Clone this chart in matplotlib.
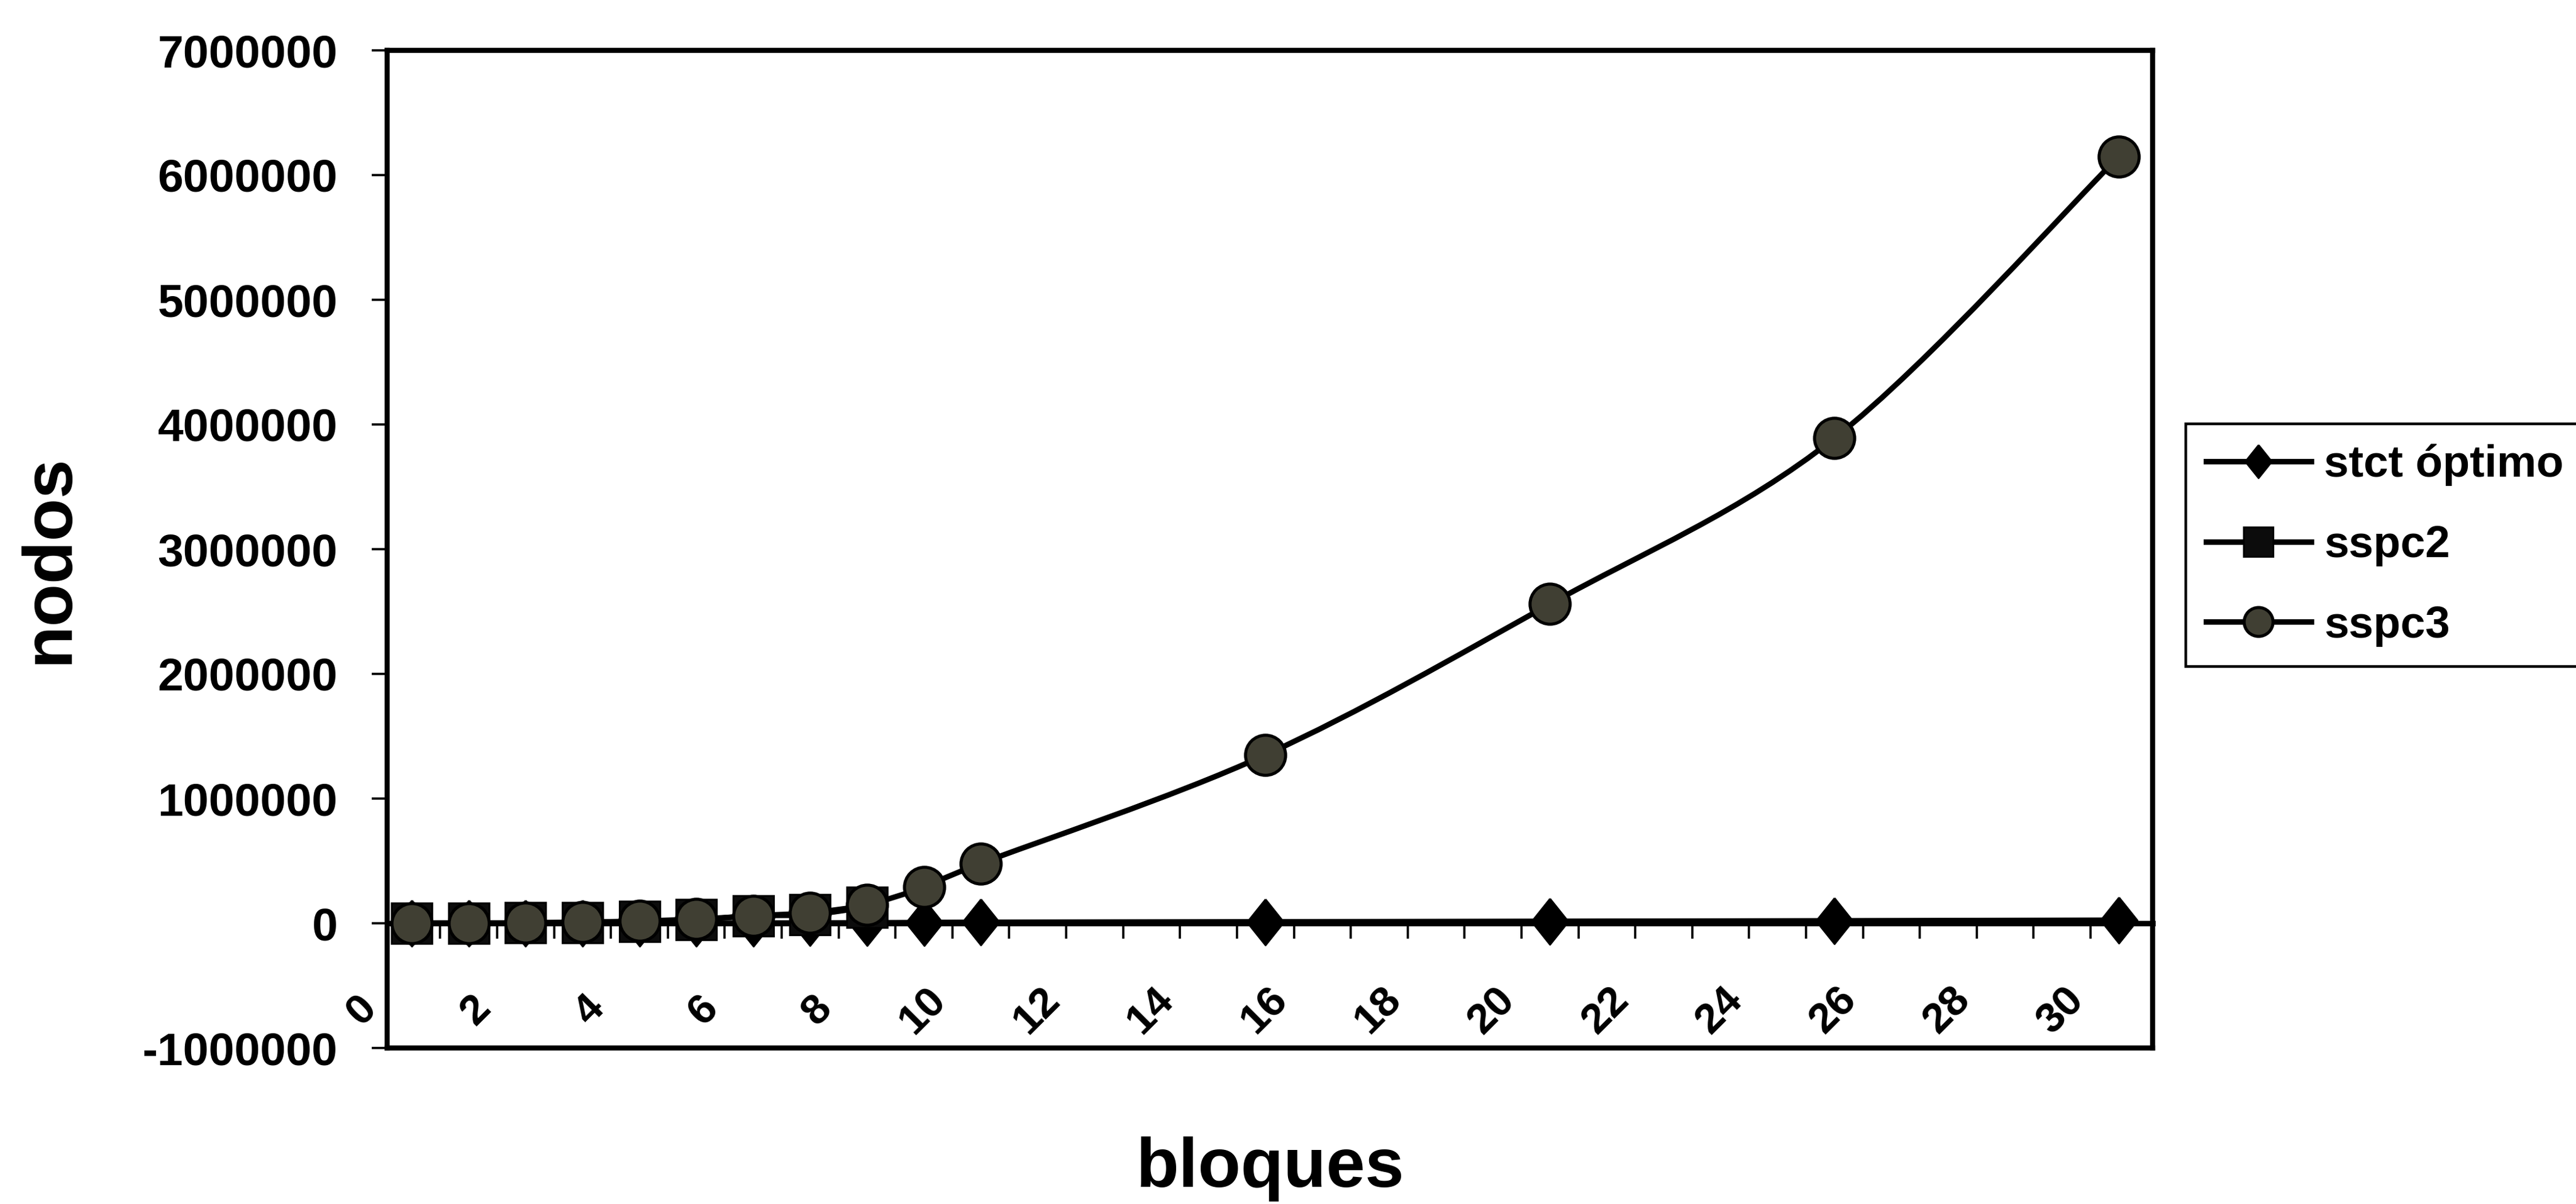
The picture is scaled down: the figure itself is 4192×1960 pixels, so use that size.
import numpy as np
import matplotlib
matplotlib.use("Agg")
import matplotlib.pyplot as plt
from matplotlib.path import Path
from matplotlib.patches import PathPatch
from matplotlib.lines import Line2D

# ---------------- data ----------------
series_names = ["stct óptimo", "sspc2", "sspc3"]

bloques_stct = [1, 2, 3, 4, 5, 6, 7, 8, 9, 10, 11, 16, 21, 26, 31]
nodos_stct = [20, 60, 150, 300, 600, 1100, 1800, 2800, 4200, 6000, 8500,
              12000, 16000, 20000, 25000]

bloques_sspc2 = [1, 2, 3, 4, 5, 6, 7, 8, 9]
nodos_sspc2 = [300, 1000, 3000, 7000, 15000, 28000, 60000, 70000, 130000]

bloques_sspc3 = [1, 2, 3, 4, 5, 6, 7, 8, 9, 10, 11, 16, 21, 26, 31]
nodos_sspc3 = [400, 1300, 4000, 9000, 18000, 33000, 60000, 85000, 150000,
               290000, 480000, 1350000, 2560000, 3890000, 6150000]

x_tick_labels = list(range(0, 31, 2))
y_ticks = list(range(-1000000, 7000001, 1000000))
categorias = list(range(1, 32))

# ---------------- style ----------------
plt.rcParams["font.family"] = ["Liberation Sans", "DejaVu Sans"]

W, H, DPI = 4192, 1960, 200
fig = plt.figure(figsize=(W / DPI, H / DPI), dpi=DPI)
ax_left, ax_right, ax_top, ax_bot = 630, 3503, 82, 1706
ax = fig.add_axes([ax_left / W, 1 - ax_bot / H,
                   (ax_right - ax_left) / W, (ax_bot - ax_top) / H])

ymin, ymax = y_ticks[0], y_ticks[-1]
ax.set_ylim(ymin, ymax)
ax.set_xlim(0.567, 31.59)

for sp in ax.spines.values():
    sp.set_linewidth(3)
    sp.set_color("black")

ax.set_xticks([])
ax.set_yticks(y_ticks)
ax.set_yticklabels([str(v) for v in y_ticks], fontsize=27, fontweight="bold")
ax.tick_params(axis="y", direction="out", length=9, width=1.3, pad=20)

# zero axis line with category tick marks
sec = ax.secondary_xaxis((0 - ymin) / (ymax - ymin))
sec.set_xticks(np.array(categorias[:-1]) + 0.5)
sec.tick_params(direction="out", length=9, width=1.3, labelbottom=False)
sec.spines["bottom"].set_linewidth(3.2)

# rotated category labels, inside the plot below the zero line
for lab in x_tick_labels:
    ax.text(lab + 0.52, -700000, str(lab), rotation=45, ha="right", va="center",
            fontsize=25, fontweight="bold", clip_on=False)


def smooth_path(xs, ys):
    pts = np.column_stack([xs, ys]).astype(float)
    n = len(pts)
    verts = [pts[0]]
    codes = [Path.MOVETO]
    for i in range(n - 1):
        p0 = pts[max(i - 1, 0)]
        p1 = pts[i]
        p2 = pts[i + 1]
        p3 = pts[min(i + 2, n - 1)]
        c1 = p1 + (p2 - p0) / 6.0
        c2 = p2 - (p3 - p1) / 6.0
        verts += [c1, c2, p2]
        codes += [Path.CURVE4] * 3
    return Path(verts, codes)


# slightly tall diamond, as in the original
diamond = [(0, 1), (0.8, 0), (0, -1), (-0.8, 0), (0, 1)]

styles = [
    dict(marker=diamond, ms=27, mfc="black", mec="black", mew=1.0),
    dict(marker="s", ms=24, mfc="#0c0c0c", mec="black", mew=1.0),
    dict(marker="o", ms=23.5, mfc="#403f33", mec="black", mew=1.8),
]
data = [(bloques_stct, nodos_stct), (bloques_sspc2, nodos_sspc2),
        (bloques_sspc3, nodos_sspc3)]

lw = 3.2
z = 3
for (xs, ys), st in zip(data, styles):
    patch = PathPatch(smooth_path(xs, ys), fill=False, edgecolor="black",
                      linewidth=lw, zorder=z, capstyle="round", joinstyle="round")
    ax.add_patch(patch)
    ax.plot(xs, ys, linestyle="none", zorder=z + 0.5, **st)
    z += 1

handles = [Line2D([], [], color="black", linewidth=lw, **st) for st in styles]
leg = fig.legend(handles, series_names, loc="upper left",
                 bbox_to_anchor=(3557 / W, 1 - 690 / H),
                 bbox_transform=fig.transFigure,
                 prop={"size": 26, "weight": "bold"},
                 frameon=True, fancybox=False, edgecolor="black", framealpha=1,
                 borderpad=0.45, labelspacing=0.87, handlelength=2.38,
                 handletextpad=0.29, borderaxespad=0, markerscale=0.72)
leg.get_frame().set_linewidth(1.6)

ax.set_ylabel("nodos", fontsize=41, fontweight="bold")
ax.yaxis.set_label_coords((81 - ax_left) / (ax_right - ax_left), 0.49)
ax.yaxis.label.set_va("center")
ax.set_xlabel("bloques", fontsize=41, fontweight="bold")
ax.xaxis.set_label_coords(0.5, (ax_bot - 1850) / (ax_bot - ax_top))
ax.xaxis.label.set_va("top")

fig.savefig("out.png", dpi=DPI)
